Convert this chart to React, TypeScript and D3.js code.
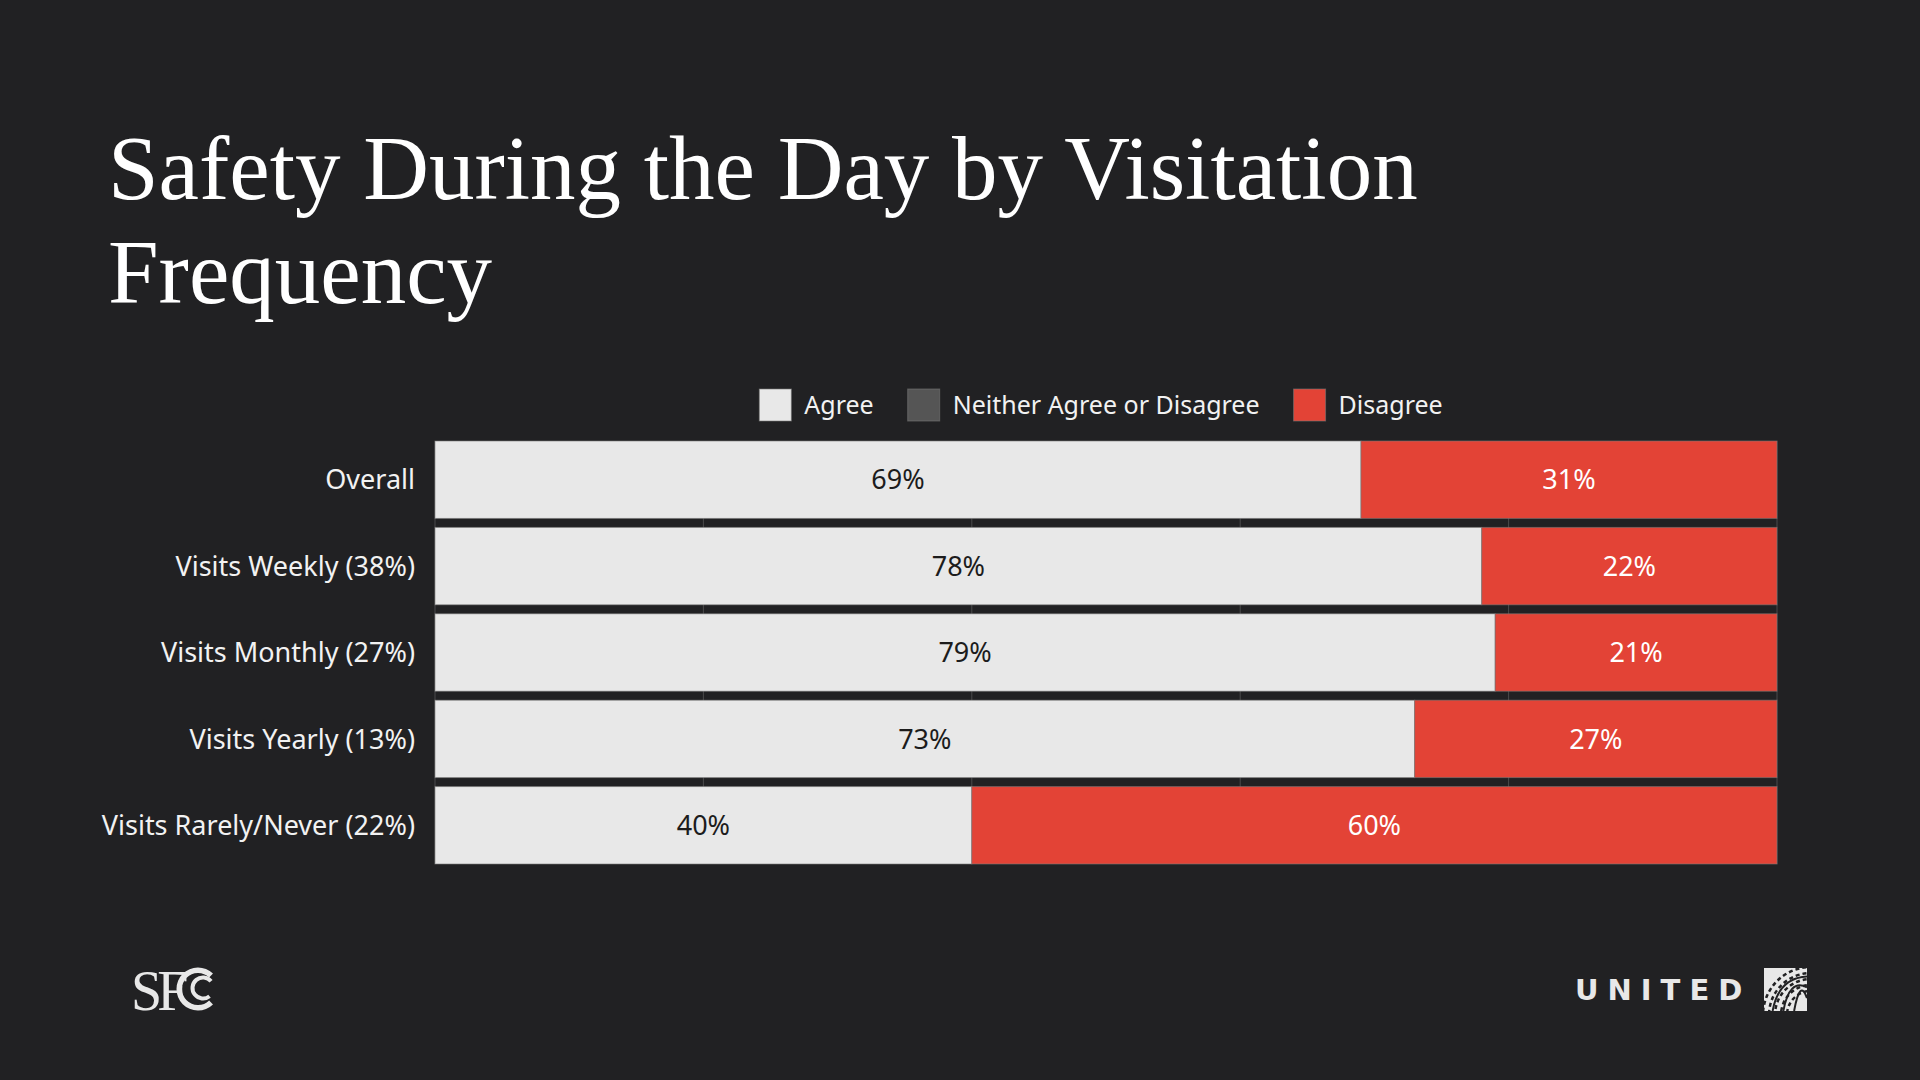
import React, { useEffect, useRef } from "react";
import * as d3 from "d3";

const categories = [
  "Overall",
  "Visits Weekly (38%)",
  "Visits Monthly (27%)",
  "Visits Yearly (13%)",
  "Visits Rarely/Never (22%)",
];
const agree = [69, 78, 79, 73, 40];
const neither = [0, 0, 0, 0, 0];
const disagree = [31, 22, 21, 27, 60];
const seriesNames = ["Agree", "Neither Agree or Disagree", "Disagree"];
const seriesColors = ["#e8e8e8", "#555555", "#e34336"];
const labelColors = ["#1c1c1c", "#ffffff", "#ffffff"];
const gridTicks = [0, 20, 40, 60, 80, 100];
const titleLines = ["Safety During the Day by Visitation", "Frequency"];

const W = 1920;
const H = 1080;
const BG = "#212123";
const SANS = "'Noto Sans', 'Open Sans', sans-serif";
const SERIF = "'Liberation Serif', 'DejaVu Serif', serif";

export default function App() {
  const ref = useRef<SVGSVGElement | null>(null);

  useEffect(() => {
    const svg = d3.select(ref.current);
    svg.selectAll("*").remove();

    svg.append("rect").attr("width", W).attr("height", H).attr("fill", BG);

    // Title
    const title = svg
      .append("text")
      .attr("fill", "#ffffff")
      .style("font-family", SERIF)
      .style("font-size", "91px");
    titleLines.forEach((t, i) => {
      title
        .append("tspan")
        .attr("x", 108)
        .attr("y", 199 + i * 104)
        .text(t);
    });

    const x = d3.scaleLinear().domain([0, 100]).range([435, 1777]);
    const y = d3
      .scaleBand<string>()
      .domain(categories)
      .range([441, 864])
      .paddingInner(0.104)
      .paddingOuter(0);

    // gridlines
    svg
      .append("g")
      .selectAll("line")
      .data(gridTicks)
      .join("line")
      .attr("x1", (d) => x(d))
      .attr("x2", (d) => x(d))
      .attr("y1", 441)
      .attr("y2", 864)
      .attr("stroke", "#4a4a4c")
      .attr("stroke-width", 1);

    const stackData = categories.map((c, i) => ({
      cat: c,
      Agree: agree[i],
      "Neither Agree or Disagree": neither[i],
      Disagree: disagree[i],
    }));
    const stacked = d3.stack<any>().keys(seriesNames)(stackData);

    const g = svg.append("g");
    stacked.forEach((layer, si) => {
      layer.forEach((seg) => {
        const w = x(seg[1]) - x(seg[0]);
        if (w <= 0) return;
        const cat = (seg as any).data.cat;
        g.append("rect")
          .attr("x", x(seg[0]))
          .attr("y", y(cat)!)
          .attr("width", w)
          .attr("height", y.bandwidth())
          .attr("fill", seriesColors[si])
          .attr("stroke", "rgba(120,120,120,0.6)")
          .attr("stroke-width", 1);
        g.append("text")
          .attr("x", (x(seg[0]) + x(seg[1])) / 2)
          .attr("y", y(cat)! + y.bandwidth() / 2)
          .attr("dy", "0.36em")
          .attr("text-anchor", "middle")
          .attr("fill", labelColors[si])
          .style("font-family", SANS)
          .style("font-size", "27px")
          .text(`${seg[1] - seg[0]}%`);
      });
    });

    // category labels
    svg
      .append("g")
      .selectAll("text")
      .data(categories)
      .join("text")
      .attr("x", 415)
      .attr("y", (d) => y(d)! + y.bandwidth() / 2)
      .attr("dy", "0.36em")
      .attr("text-anchor", "end")
      .attr("fill", "#f2f2f2")
      .style("font-family", SANS)
      .style("font-size", "27px")
      .text((d) => d);

    // legend
    const legend = svg.append("g");
    const sq = 32;
    const gapText = 13;
    const gapItem = 34;
    let cx = 0;
    const items: { x: number; tx: number }[] = [];
    const texts: any[] = [];
    seriesNames.forEach((name, i) => {
      const t = legend
        .append("text")
        .attr("y", 405)
        .attr("dy", "0.36em")
        .attr("fill", "#f2f2f2")
        .style("font-family", SANS)
        .style("font-size", "25px")
        .text(name);
      const tw = (t.node() as SVGTextElement).getComputedTextLength();
      items.push({ x: cx, tx: cx + sq + gapText });
      texts.push(t);
      cx += sq + gapText + tw + (i < seriesNames.length - 1 ? gapItem : 0);
    });
    const start = 1101 - cx / 2;
    seriesNames.forEach((name, i) => {
      legend
        .append("rect")
        .attr("x", start + items[i].x)
        .attr("y", 405 - sq / 2)
        .attr("width", sq)
        .attr("height", sq)
        .attr("fill", seriesColors[i])
        .attr("stroke", "rgba(120,120,120,0.6)");
      texts[i].attr("x", start + items[i].tx);
    });

    // SFC logo
    const sfc = svg.append("g");
    sfc
      .append("text")
      .attr("x", 131)
      .attr("y", 1010)
      .attr("fill", "#e8e8e8")
      .style("font-family", SERIF)
      .style("font-size", "56px")
      .style("letter-spacing", "-5px")
      .text("SF");
    const q = Math.PI / 2;
    const arcOuter = d3.arc()({
      innerRadius: 16,
      outerRadius: 21.5,
      startAngle: q + 0.8,
      endAngle: q + Math.PI * 2 - 0.8,
    } as any);
    const arcInner = d3.arc()({
      innerRadius: 8.5,
      outerRadius: 12.5,
      startAngle: q + 0.9,
      endAngle: q + Math.PI * 2 - 0.7,
    } as any);
    sfc
      .append("path")
      .attr("d", arcOuter)
      .attr("transform", "translate(198,989)")
      .attr("fill", "#e8e8e8");
    sfc
      .append("path")
      .attr("d", arcInner)
      .attr("transform", "translate(203,988)")
      .attr("fill", "#e8e8e8");

    // UNITED logo
    svg
      .append("text")
      .attr("x", 1575)
      .attr("y", 1000)
      .attr("fill", "#e8e8e8")
      .style("font-family", "'DejaVu Sans', sans-serif")
      .style("font-weight", "bold")
      .style("font-size", "29px")
      .style("letter-spacing", "9px")
      .text("UNITED");
    const gx = 1764;
    const gy = 968;
    const gs = 43;
    const globe = svg.append("g");
    globe
      .append("rect")
      .attr("x", gx)
      .attr("y", gy)
      .attr("width", gs)
      .attr("height", gs)
      .attr("fill", "#e8e8e8");
    const clipId = "globeclip";
    svg
      .append("clipPath")
      .attr("id", clipId)
      .append("rect")
      .attr("x", gx)
      .attr("y", gy)
      .attr("width", gs)
      .attr("height", gs);
    const gl = globe.append("g").attr("clip-path", `url(#${clipId})`);
    const radii = [14, 20, 26, 32, 38];
    radii.forEach((r) => {
      gl.append("circle")
        .attr("cx", gx + gs + 4)
        .attr("cy", gy + gs + 4)
        .attr("r", r + 10)
        .attr("fill", "none")
        .attr("stroke", "#212123")
        .attr("stroke-width", 2.5)
        .attr("stroke-dasharray", "4 3");
    });
    [0.2, 0.45, 0.7].forEach((f) => {
      gl.append("path")
        .attr(
          "d",
          `M${gx + gs * f},${gy + gs} Q${gx + gs * f + 6},${gy + 10} ${gx + gs},${gy + gs * f}`
        )
        .attr("fill", "none")
        .attr("stroke", "#212123")
        .attr("stroke-width", 2);
    });
  }, []);

  return (
    <div style={{ position: "fixed", left: 0, top: 0, width: W, height: H }}>
      <svg ref={ref} width={W} height={H} style={{ display: "block" }} />
    </div>
  );
}
